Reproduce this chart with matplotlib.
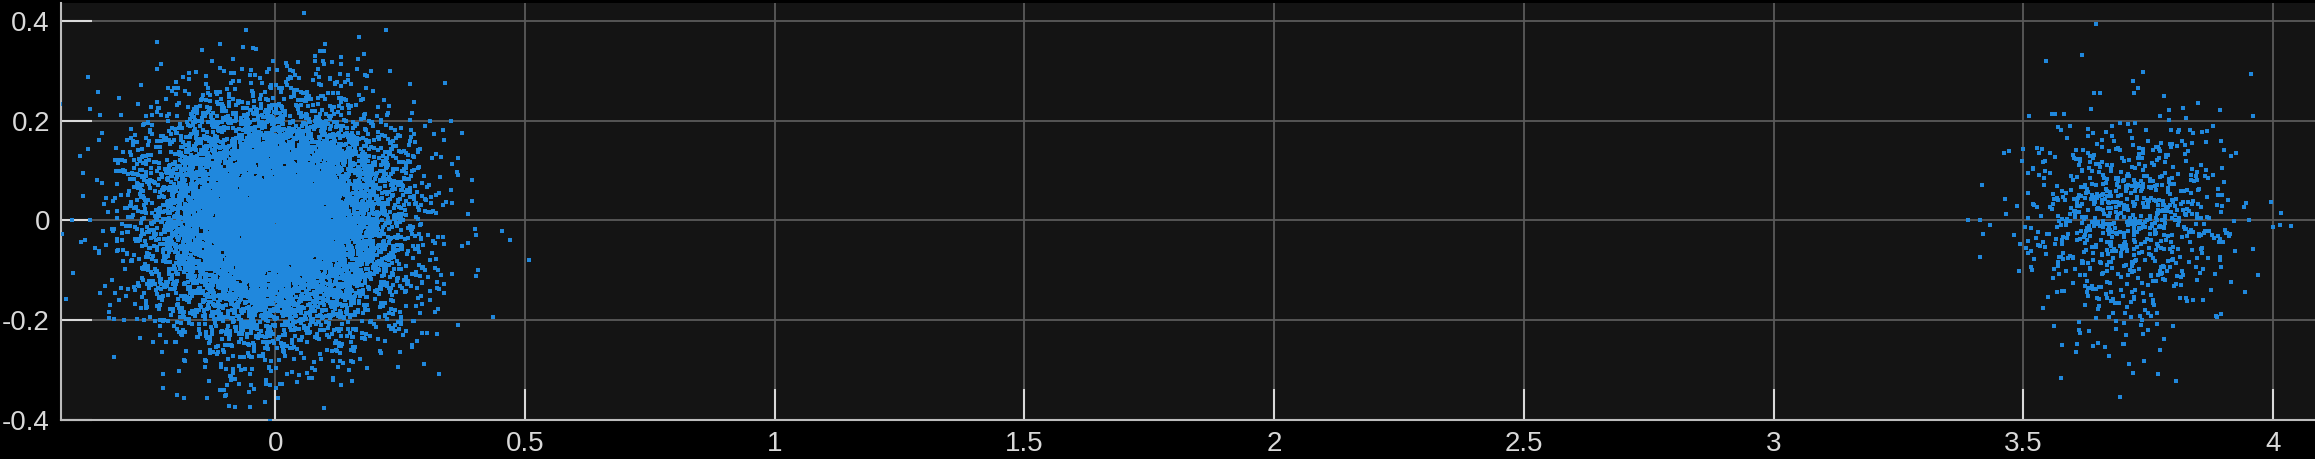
import numpy as np
import matplotlib
matplotlib.use("Agg")
import matplotlib.pyplot as plt

# Cluster summaries (individual points cannot be read)
cluster_names = ["left", "right"]
cluster_center_x = [0.0, 3.71]
cluster_center_y = [0.0, 0.0]
cluster_sigma_x = [0.125, 0.105]
cluster_sigma_y = [0.115, 0.11]
cluster_count = [10000, 850]

x_ticks = [0, 0.5, 1, 1.5, 2, 2.5, 3, 3.5, 4]
x_tick_labels = ["0", "0.5", "1", "1.5", "2", "2.5", "3", "3.5", "4"]
y_ticks = [-0.4, -0.2, 0, 0.2, 0.4]
y_tick_labels = ["-0.4", "-0.2", "0", "0.2", "0.4"]

rng = np.random.default_rng(7)
xs, ys = [], []
for cx, cy, sx, sy, n in zip(cluster_center_x, cluster_center_y,
                             cluster_sigma_x, cluster_sigma_y, cluster_count):
    xs.append(rng.normal(cx, sx, n))
    ys.append(rng.normal(cy, sy, n))
x = np.concatenate(xs)
y = np.concatenate(ys)

plt.rcParams['font.family'] = ['Liberation Sans', 'DejaVu Sans']

fig = plt.figure(figsize=(23.15, 4.59), dpi=100, facecolor='black')
ax = fig.add_axes([61/2315, 39/459, (2315-61)/2315, (420-3)/459])
ax.set_facecolor('#141414')

ax.plot(x, y, linestyle='none', marker='s', markersize=2.2,
        markeredgewidth=0, color='#2088dd', zorder=3)

ax.set_xlim(-0.429, 4.084)
ax.set_ylim(-0.4, 0.436)
ax.set_xticks(x_ticks)
ax.set_xticklabels(x_tick_labels)
ax.set_yticks(y_ticks)
ax.set_yticklabels(y_tick_labels)

ax.grid(True, color='#5a5a5a', linewidth=1.3, zorder=0)
ax.set_axisbelow(True)

for s in ['top', 'right']:
    ax.spines[s].set_visible(False)
for s in ['left', 'bottom']:
    ax.spines[s].set_color('#bdbdbd')
    ax.spines[s].set_linewidth(1.5)

ax.tick_params(axis='both', direction='in', length=22, width=1.5,
               colors='#d9d9d9', labelsize=20, labelcolor='#d9d9d9')
ax.tick_params(axis='x', pad=8)
ax.tick_params(axis='y', pad=8)

fig.savefig('out.png', dpi=100, facecolor='black')
